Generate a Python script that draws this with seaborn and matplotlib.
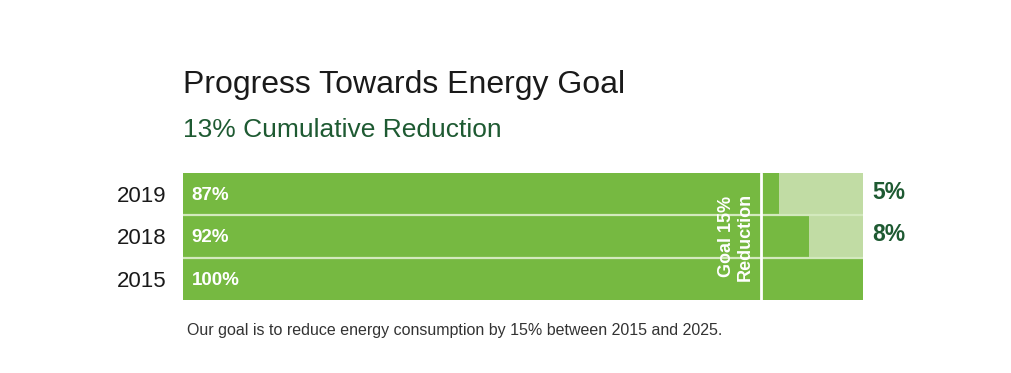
import matplotlib
matplotlib.use("Agg")
import matplotlib.pyplot as plt
import seaborn as sns
import pandas as pd

years = ["2019", "2018", "2015"]
usage_pct = [87.6, 92, 100]
usage_labels = ["87%", "92%", "100%"]
yoy_reduction_labels = ["5%", "8%"]
goal_pct = 85
title = "Progress Towards Energy Goal"
subtitle = "13% Cumulative Reduction"
caption = "Our goal is to reduce energy consumption by 15% between 2015 and 2025."

DARK = "#76b941"
LIGHT = "#c1dca4"
DKGREEN = "#1e5a32"

sns.set_theme(style="white")
plt.rcParams["font.family"] = ["Liberation Sans", "DejaVu Sans"]

df = pd.DataFrame({"year": years, "usage": usage_pct, "full": [100] * len(years)})

fig = plt.figure(figsize=(10.12, 3.73), dpi=100)
ax = fig.add_axes([183 / 1012, 1 - 300 / 373, 680 / 1012, 127 / 373])

sns.barplot(data=df, x="full", y="year", order=years, color=LIGHT, width=1.0,
            saturation=1, ax=ax, linewidth=0)
sns.barplot(data=df, x="usage", y="year", order=years, color=DARK, width=1.0,
            saturation=1, ax=ax, linewidth=0)

ax.set_xlim(0, 100)
ax.set_ylim(2.5, -0.5)
for yb in [0.5, 1.5]:
    ax.axhline(yb, color="#d3e9bd", lw=1.6, zorder=5)
ax.axvline(goal_pct, color="white", lw=2, zorder=6)

for i, lab in enumerate(usage_labels):
    ax.text(1.3, i + 0.03, lab, color="white", fontsize=13.5, fontweight="bold",
            ha="left", va="center", zorder=7)
for i, lab in enumerate(yoy_reduction_labels):
    ax.text(101.4, i - 0.05, lab, color=DKGREEN, fontsize=16.5, fontweight="bold",
            ha="left", va="center", clip_on=False)

ax.text(goal_pct - 1.0, 1.0, "Goal 15%\nReduction", rotation=90, color="white",
        fontsize=13, fontweight="bold", ha="right", va="center", zorder=7,
        linespacing=1.15, multialignment="center")

ax.set_xlabel("")
ax.set_ylabel("")
ax.set_xticks([])
ax.tick_params(axis="y", length=0, pad=12, labelsize=16, labelcolor="#1a1a1a")
sns.despine(ax=ax, left=True, bottom=True)

fig.text(183 / 1012, 1 - 85 / 373, title, fontsize=23, color="#1a1a1a",
         ha="left", va="center")
fig.text(183 / 1012, 1 - 130 / 373, subtitle, fontsize=19, color=DKGREEN,
         ha="left", va="center")
fig.text(187 / 1012, 1 - 331 / 373, caption, fontsize=11.5, color="#333333",
         ha="left", va="center")

fig.savefig("out.png", dpi=100)
